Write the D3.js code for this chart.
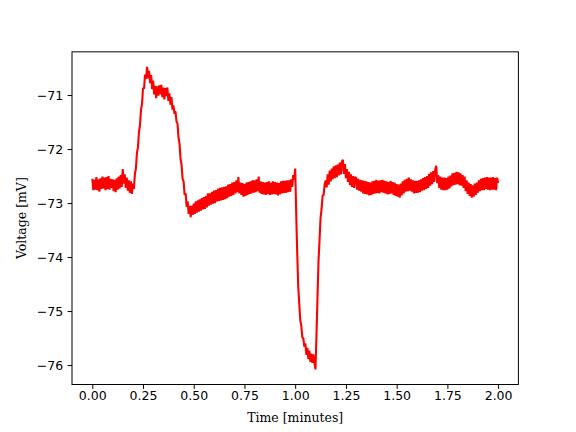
<!DOCTYPE html>
<html>
<head>
<meta charset="utf-8">
<script src="https://cdn.jsdelivr.net/npm/d3@7"></script>
<style>
  html, body { margin: 0; padding: 0; background: #fff; }
  svg { display: block; }
</style>
</head>
<body>
<svg id="chart" width="576" height="432"></svg>
<script>
// membrane voltage (mV), one sample every 0.005 minutes
const sampleStep = 0.005;
const voltage = [
  -72.55, -72.76, -72.57, -72.75, -72.52, -72.76, -72.56, -72.79, -72.54, -72.74,
  -72.51, -72.73, -72.53, -72.76, -72.52, -72.74, -72.50, -72.75, -72.55, -72.72,
  -72.56, -72.78, -72.57, -72.80, -72.54, -72.75, -72.51, -72.73, -72.48, -72.70,
  -72.37, -72.64, -72.47, -72.72, -72.53, -72.77, -72.58, -72.81, -72.60, -72.83,
  -72.64, -72.74, -72.46, -72.36, -72.07, -71.97, -71.68, -71.56, -71.27, -71.17,
  -70.87, -70.88, -70.62, -70.70, -70.48, -70.69, -70.55, -70.78, -70.63, -70.89,
  -70.73, -70.99, -70.83, -71.06, -70.84, -71.01, -70.82, -70.99, -70.81, -71.04,
  -70.86, -71.08, -70.87, -71.02, -70.86, -71.11, -70.97, -71.18, -71.04, -71.27,
  -71.19, -71.35, -71.30, -71.49, -71.53, -71.79, -71.90, -72.19, -72.29, -72.55,
  -72.60, -72.85, -72.82, -73.07, -72.97, -73.20, -73.05, -73.26, -73.05, -73.22,
  -73.01, -73.20, -72.97, -73.18, -72.95, -73.16, -72.93, -73.14, -72.91, -73.12,
  -72.89, -73.11, -72.87, -73.08, -72.82, -73.05, -72.82, -73.03, -72.79, -73.01,
  -72.77, -73.00, -72.76, -72.97, -72.73, -72.96, -72.72, -72.95, -72.71, -72.94,
  -72.70, -72.93, -72.69, -72.91, -72.66, -72.88, -72.65, -72.87, -72.62, -72.85,
  -72.61, -72.82, -72.58, -72.80, -72.52, -72.82, -72.62, -72.85, -72.63, -72.88,
  -72.65, -72.87, -72.62, -72.85, -72.61, -72.83, -72.60, -72.82, -72.58, -72.81,
  -72.58, -72.80, -72.56, -72.78, -72.51, -72.81, -72.60, -72.83, -72.61, -72.84,
  -72.62, -72.85, -72.61, -72.83, -72.60, -72.85, -72.62, -72.84, -72.60, -72.83,
  -72.61, -72.84, -72.62, -72.86, -72.63, -72.84, -72.60, -72.82, -72.59, -72.81,
  -72.59, -72.81, -72.58, -72.80, -72.58, -72.79, -72.56, -72.70, -72.48, -72.57,
  -72.36, -73.20, -73.93, -74.55, -74.86, -75.17, -75.27, -75.49, -75.50, -75.66,
  -75.60, -75.81, -75.68, -75.89, -75.73, -75.94, -75.79, -75.96, -75.80, -75.97,
  -76.08, -75.42, -74.72, -74.06, -73.68, -73.27, -73.11, -72.86, -72.85, -72.66,
  -72.58, -72.71, -72.47, -72.66, -72.40, -72.60, -72.36, -72.56, -72.32, -72.54,
  -72.30, -72.52, -72.29, -72.49, -72.25, -72.47, -72.23, -72.20, -72.46, -72.28,
  -72.54, -72.37, -72.61, -72.42, -72.67, -72.47, -72.70, -72.50, -72.72, -72.52,
  -72.53, -72.75, -72.55, -72.77, -72.57, -72.79, -72.58, -72.82, -72.59, -72.83,
  -72.60, -72.84, -72.61, -72.86, -72.62, -72.85, -72.60, -72.83, -72.59, -72.82,
  -72.57, -72.81, -72.59, -72.82, -72.58, -72.80, -72.57, -72.81, -72.59, -72.82,
  -72.60, -72.84, -72.61, -72.83, -72.59, -72.82, -72.61, -72.85, -72.62, -72.87,
  -72.65, -72.88, -72.66, -72.90, -72.64, -72.86, -72.60, -72.82, -72.57, -72.79,
  -72.55, -72.78, -72.53, -72.77, -72.56, -72.79, -72.58, -72.82, -72.59, -72.81,
  -72.59, -72.81, -72.58, -72.80, -72.56, -72.77, -72.54, -72.76, -72.52, -72.74,
  -72.50, -72.72, -72.46, -72.68, -72.43, -72.65, -72.41, -72.61, -72.38, -72.31,
  -72.63, -72.48, -72.72, -72.51, -72.75, -72.53, -72.76, -72.53, -72.76, -72.54,
  -72.75, -72.51, -72.73, -72.49, -72.69, -72.45, -72.67, -72.44, -72.66, -72.42,
  -72.65, -72.43, -72.67, -72.45, -72.68, -72.48, -72.72, -72.51, -72.78, -72.58,
  -72.83, -72.62, -72.87, -72.65, -72.90, -72.67, -72.88, -72.64, -72.85, -72.62,
  -72.81, -72.58, -72.78, -72.55, -72.76, -72.54, -72.76, -72.53, -72.74, -72.52,
  -72.75, -72.53, -72.76, -72.53, -72.75, -72.52, -72.75, -72.54, -72.76, -72.53,
  -72.63
];
const xTicks = [0, 0.25, 0.5, 0.75, 1.0, 1.25, 1.5, 1.75, 2.0];
const yTicks = [-76, -75, -74, -73, -72, -71];

const trace = voltage.map((v, i) => ({ t: i * sampleStep, v }));

// figure layout (matplotlib-like 90 dpi: 1pt = 1.25px)
const width = 576, height = 432;
const axLeft = 72, axRight = 518.4, axTop = 51.84, axBottom = 384.5;
const tickLen = 4.4;

const svg = d3.select('#chart');

// 5% data margins like matplotlib autoscale
const tExt = d3.extent(trace, d => d.t);
const vExt = d3.extent(trace, d => d.v);
const tPad = (tExt[1] - tExt[0]) * 0.05;
const vPad = (vExt[1] - vExt[0]) * 0.05;

const xScale = d3.scaleLinear()
  .domain([tExt[0] - tPad, tExt[1] + tPad])
  .range([axLeft, axRight]);
const yScale = d3.scaleLinear()
  .domain([vExt[0] - vPad, vExt[1] + vPad])
  .range([axBottom, axTop]);

svg.append('rect')
  .attr('width', width).attr('height', height)
  .attr('fill', '#fff');

svg.append('defs').append('clipPath').attr('id', 'plot-clip')
  .append('rect')
  .attr('x', axLeft).attr('y', axTop)
  .attr('width', axRight - axLeft).attr('height', axBottom - axTop);

svg.append('path')
  .datum(trace)
  .attr('clip-path', 'url(#plot-clip)')
  .attr('fill', 'none')
  .attr('stroke', '#ff0000')
  .attr('stroke-width', 2.1)
  .attr('stroke-linejoin', 'bevel')
  .attr('d', d3.line().x(d => xScale(d.t)).y(d => yScale(d.v)));

const xAxis = svg.append('g')
  .attr('transform', `translate(0,${axBottom})`)
  .call(d3.axisBottom(xScale)
    .tickValues(xTicks)
    .tickSize(tickLen)
    .tickPadding(2)
    .tickFormat(d => d.toFixed(2)));

const yAxis = svg.append('g')
  .attr('transform', `translate(${axLeft},0)`)
  .call(d3.axisLeft(yScale)
    .tickValues(yTicks)
    .tickSize(tickLen)
    .tickPadding(4.4)
    .tickFormat(d => String(d).replace('-', '\u2212')));

[xAxis, yAxis].forEach(ax => {
  ax.select('.domain').remove();
  ax.selectAll('.tick line').attr('stroke', '#000').attr('stroke-width', 1);
  ax.selectAll('.tick text')
    .attr('fill', '#000')
    .style('font-family', '"DejaVu Sans", sans-serif')
    .style('font-size', '12.5px');
});

// axes frame
svg.append('rect')
  .attr('x', axLeft).attr('y', axTop)
  .attr('width', axRight - axLeft).attr('height', axBottom - axTop)
  .attr('fill', 'none')
  .attr('stroke', '#000')
  .attr('stroke-width', 1);

svg.append('text')
  .attr('x', (axLeft + axRight) / 2)
  .attr('y', 422)
  .attr('text-anchor', 'middle')
  .style('font-family', '"DejaVu Serif", serif')
  .style('font-size', '12.5px')
  .text('Time [minutes]');

svg.append('text')
  .attr('transform', `translate(26,${(axTop + axBottom) / 2}) rotate(-90)`)
  .attr('text-anchor', 'middle')
  .style('font-family', '"DejaVu Serif", serif')
  .style('font-size', '12.5px')
  .text('Voltage [mV]');
</script>
</body>
</html>
